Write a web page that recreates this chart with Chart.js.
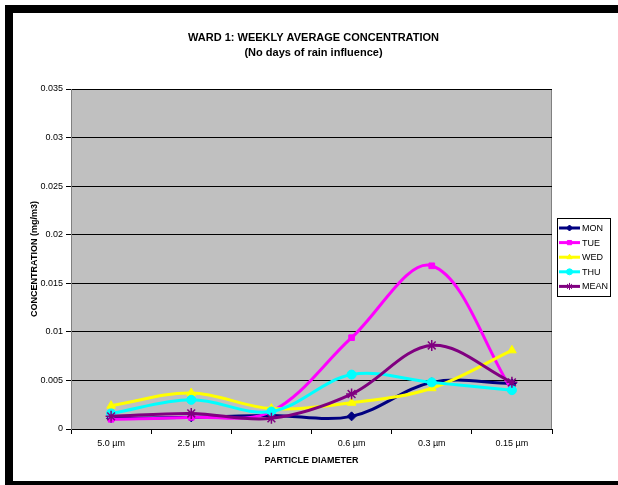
<!DOCTYPE html>
<html>
<head>
<meta charset="utf-8">
<script src="https://cdn.jsdelivr.net/npm/chart.js@4/dist/chart.umd.min.js"></script>
<style>
  html, body { margin: 0; padding: 0; background: #fff; }
  canvas { display: block; }
</style>
</head>
<body>
<canvas id="c" width="618" height="485"></canvas>
<script>
// Particle size classes and weekly average concentrations (mg/m3)
const categories = ['5.0 µm', '2.5 µm', '1.2 µm', '0.6 µm', '0.3 µm', '0.15 µm'];
const mon  = [0.0011, 0.0012, 0.0014, 0.0013, 0.0048, 0.0047];
const tue  = [0.0010, 0.0012, 0.0018, 0.0094, 0.0168, 0.0040];
const wed  = [0.0024, 0.0037, 0.0021, 0.0027, 0.0042, 0.0081];
const thu  = [0.0016, 0.0030, 0.0018, 0.0056, 0.0048, 0.0040];
const mean = [0.0013, 0.0016, 0.0011, 0.0036, 0.0086, 0.0048];

const seriesNames = ['MON', 'TUE', 'WED', 'THU', 'MEAN'];
const titleLines = ['WARD 1: WEEKLY AVERAGE CONCENTRATION', '(No days of rain influence)'];

const FONT = '"Liberation Sans", Arial, sans-serif';

function series(label, data, color, pointStyle, radius, order) {
  return {
    label, data,
    borderColor: color,
    backgroundColor: color,
    pointBackgroundColor: color,
    pointBorderColor: color,
    pointStyle,
    pointRadius: radius,
    pointBorderWidth: pointStyle === 'star' ? 1.5 : 1,
    borderWidth: 3,
    tension: 0.35,
    fill: false,
    order
  };
}

// White page with the black frame, the grey plot area and the title
const backdrop = {
  id: 'backdrop',
  beforeDraw(chart) {
    const { ctx, chartArea: a, width, height } = chart;
    ctx.save();
    ctx.fillStyle = '#fff';
    ctx.fillRect(0, 0, width, height);
    ctx.fillStyle = '#000';
    ctx.fillRect(5, 5, 8, height - 5);
    ctx.fillRect(5, 5, width - 5, 8);
    ctx.fillRect(5, 481, width - 5, 4);
    ctx.fillStyle = '#c0c0c0';
    ctx.fillRect(a.left, a.top, a.right - a.left, a.bottom - a.top);
    ctx.strokeStyle = '#808080';
    ctx.lineWidth = 1;
    ctx.strokeRect(a.left + 0.5, a.top + 0.5, a.right - a.left - 1, a.bottom - a.top);
    ctx.fillStyle = '#000';
    ctx.font = 'bold 11px ' + FONT;
    ctx.textAlign = 'center';
    ctx.textBaseline = 'middle';
    const cx = (a.left + a.right) / 2 + 2;
    ctx.fillText(titleLines[0], cx, 38);
    ctx.fillText(titleLines[1], cx, 53);
    ctx.restore();
  }
};

// Boxed legend to the right of the plot, each entry showing line and marker
const boxLegend = {
  id: 'boxLegend',
  afterDraw(chart) {
    const { ctx, chartArea: a } = chart;
    const sets = chart.data.datasets;
    const left = a.right + 5, w = 53, rowH = 14.6;
    const h = rowH * sets.length + 5;
    const top = (a.top + a.bottom) / 2 - h / 2 - 2;
    ctx.save();
    ctx.fillStyle = '#fff';
    ctx.fillRect(left, top, w, h);
    ctx.strokeStyle = '#000';
    ctx.lineWidth = 1;
    ctx.strokeRect(left + 0.5, top + 0.5, w, h);
    ctx.font = '9px ' + FONT;
    ctx.textBaseline = 'middle';
    ctx.textAlign = 'left';
    sets.forEach((ds, i) => {
      const y = top + 10 + i * rowH;
      ctx.strokeStyle = ds.borderColor;
      ctx.lineWidth = 3;
      ctx.beginPath();
      ctx.moveTo(left + 2, y);
      ctx.lineTo(left + 23, y);
      ctx.stroke();
      ctx.fillStyle = ds.borderColor;
      ctx.strokeStyle = ds.borderColor;
      ctx.lineWidth = ds.pointStyle === 'star' ? 1 : 1;
      Chart.helpers.drawPoint(ctx, {
        pointStyle: ds.pointStyle,
        radius: ds.pointStyle === 'star' ? 3.5 : 3,
        borderWidth: 1,
        rotation: 0
      }, left + 12.5, y);
      ctx.fillStyle = '#000';
      ctx.fillText(ds.label, left + 25, y + 0.5);
    });
    ctx.restore();
  }
};

new Chart(document.getElementById('c'), {
  type: 'line',
  data: {
    labels: categories,
    datasets: [
      series(seriesNames[0], mon,  '#000080', 'rectRot',  4.5, 4),
      series(seriesNames[1], tue,  '#ff00ff', 'rect',     4,   3),
      series(seriesNames[2], wed,  '#ffff00', 'triangle', 5,   2),
      series(seriesNames[3], thu,  '#00ffff', 'circle',   4.5, 1),
      series(seriesNames[4], mean, '#800080', 'star',     5.5, 0)
    ]
  },
  options: {
    responsive: false,
    animation: false,
    layout: { padding: { left: 14, right: 66, top: 89, bottom: 11 } },
    plugins: {
      legend: { display: false },
      title: { display: false },
      tooltip: { enabled: false }
    },
    scales: {
      x: {
        offset: true,
        grid: { display: true, drawOnChartArea: false, offset: true, color: '#000', tickLength: 5 },
        border: { color: '#000', width: 1 },
        ticks: { color: '#000', font: { family: FONT, size: 9 }, padding: 4, maxRotation: 0 },
        title: { display: true, text: 'PARTICLE DIAMETER', color: '#000', font: { family: FONT, size: 9, weight: 'bold' }, padding: { top: 4, bottom: 8 } },
        afterFit(scale) { scale.height = 45; }
      },
      y: {
        min: 0,
        max: 0.035,
        grid: { color: '#000', tickLength: 5, lineWidth: 1 },
        border: { color: '#808080', width: 1 },
        ticks: {
          stepSize: 0.005,
          color: '#000',
          padding: 3,
          font: { family: FONT, size: 9 },
          callback: v => String(+(+v).toFixed(3))
        },
        title: { display: true, text: 'CONCENTRATION (mg/m3)', color: '#000', font: { family: FONT, size: 9, weight: 'bold' }, padding: { top: 15, bottom: 4 } },
        afterFit(scale) { scale.width = 57; }
      }
    }
  },
  plugins: [backdrop, boxLegend]
});
</script>
</body>
</html>
